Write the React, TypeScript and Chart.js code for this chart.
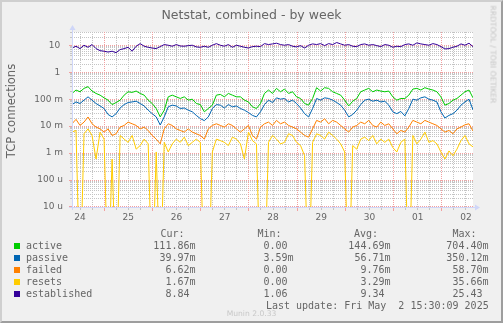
import React, { useEffect, useRef } from 'react';
import { Chart, registerables } from 'chart.js';

Chart.register(...registerables);

const startHour = 8; // Apr 24, 08:00 (hours since Apr 24 00:00)
const endHour = 207.5; // May 2, 15:30
const dayLabels = ['24', '25', '26', '27', '28', '29', '30', '01', '02'];
const dayNoonHours = [12, 36, 60, 84, 108, 132, 156, 180, 204];
const yTickValues = [1e-5, 1e-4, 1e-3, 1e-2, 1e-1, 1, 10];
const yTickLabels = ['10 u', '100 u', '1 m', '10 m', '100 m', '1 ', '10 '];

const active = [
  0.163, 0.218, 0.188, 0.251, 0.290, 0.200, 0.163, 0.141, 0.112, 0.092,
  0.063, 0.075, 0.092, 0.141, 0.188, 0.178, 0.200, 0.163, 0.141, 0.092,
  0.069, 0.045, 0.022, 0.039, 0.122, 0.141, 0.122, 0.106, 0.122, 0.092,
  0.100, 0.069, 0.063, 0.034, 0.045, 0.060, 0.141, 0.150, 0.122, 0.163,
  0.141, 0.122, 0.122, 0.092, 0.079, 0.052, 0.045, 0.069, 0.163, 0.218,
  0.163, 0.251, 0.188, 0.237, 0.163, 0.188, 0.122, 0.106, 0.069, 0.060,
  0.106, 0.266, 0.200, 0.266, 0.251, 0.188, 0.163, 0.141, 0.092, 0.056,
  0.084, 0.106, 0.188, 0.218, 0.251, 0.188, 0.218, 0.200, 0.188, 0.200,
  0.122, 0.092, 0.106, 0.106, 0.141, 0.237, 0.251, 0.218, 0.266, 0.237,
  0.218, 0.188, 0.122, 0.060, 0.069, 0.092, 0.106, 0.141, 0.188, 0.218,
  0.112,
];

const passive = [
  0.063, 0.079, 0.069, 0.092, 0.122, 0.092, 0.069, 0.056, 0.045, 0.027,
  0.022, 0.029, 0.047, 0.063, 0.075, 0.079, 0.084, 0.069, 0.056, 0.039,
  0.029, 0.022, 0.011, 0.022, 0.052, 0.060, 0.056, 0.045, 0.047, 0.039,
  0.034, 0.025, 0.019, 0.016, 0.022, 0.045, 0.063, 0.060, 0.047, 0.063,
  0.052, 0.056, 0.045, 0.039, 0.032, 0.025, 0.022, 0.034, 0.063, 0.092,
  0.075, 0.112, 0.100, 0.106, 0.079, 0.092, 0.069, 0.047, 0.029, 0.022,
  0.045, 0.106, 0.092, 0.112, 0.106, 0.092, 0.075, 0.060, 0.039, 0.022,
  0.027, 0.039, 0.063, 0.092, 0.100, 0.084, 0.092, 0.079, 0.084, 0.060,
  0.034, 0.029, 0.035, 0.024, 0.045, 0.100, 0.092, 0.112, 0.122, 0.100,
  0.092, 0.079, 0.034, 0.020, 0.025, 0.029, 0.039, 0.060, 0.079, 0.100,
  0.040,
];

const failed = [
  0.0122, 0.0178, 0.0106, 0.0141, 0.0218, 0.0122, 0.0092, 0.0079, 0.0060, 0.0079,
  0.0045, 0.0052, 0.0092, 0.0106, 0.0141, 0.0122, 0.0106, 0.0079, 0.0092, 0.0069,
  0.0045, 0.0033, 0.0022, 0.0079, 0.0122, 0.0106, 0.0079, 0.0069, 0.0060, 0.0079,
  0.0060, 0.0052, 0.0045, 0.0033, 0.0079, 0.0106, 0.0122, 0.0106, 0.0092, 0.0122,
  0.0106, 0.0079, 0.0060, 0.0079, 0.0106, 0.0045, 0.0033, 0.0092, 0.0122, 0.0141,
  0.0106, 0.0163, 0.0122, 0.0141, 0.0106, 0.0092, 0.0079, 0.0060, 0.0045, 0.0039,
  0.0079, 0.0163, 0.0141, 0.0188, 0.0122, 0.0163, 0.0141, 0.0106, 0.0079, 0.0060,
  0.0092, 0.0106, 0.0141, 0.0122, 0.0163, 0.0106, 0.0092, 0.0141, 0.0106, 0.0122,
  0.0079, 0.0052, 0.0069, 0.0060, 0.0092, 0.0163, 0.0141, 0.0122, 0.0163, 0.0141,
  0.0122, 0.0106, 0.0079, 0.0060, 0.0069, 0.0052, 0.0079, 0.0092, 0.0112, 0.0122,
  0.0066,
];

const resets = [
  0.0060, 0.0069, 0, 0.0052, 0.0079, 0.0045, 0.0006, 0.0060, 0.0033, 0,
  0.0006, 0, 0.0045, 0.0033, 0.0025, 0.0045, 0.0014, 0.0019, 0.0033, 0.0022,
  0, 0.0011, 0, 0.0025, 0.0011, 0.0022, 0.0033, 0.0025, 0.0039, 0.0019,
  0.0025, 0.0033, 0.0025, 0, 0, 0.0011, 0.0033, 0.0029, 0.0025, 0.0019,
  0.0039, 0.0033, 0.0022, 0.0006, 0.0060, 0.0029, 0.0022, 0, 0, 0.0025,
  0.0045, 0.0033, 0.0022, 0.0025, 0.0052, 0.0045, 0.0025, 0.0019, 0.0008, 0,
  0.0025, 0.0052, 0.0045, 0.0033, 0.0060, 0.0045, 0.0033, 0.0022, 0.0011, 0,
  0.0019, 0.0014, 0.0033, 0.0039, 0.0029, 0.0045, 0.0022, 0.0033, 0.0025, 0.0033,
  0.0016, 0.0011, 0.0025, 0.0033, 0, 0.0045, 0.0022, 0.0033, 0.0060, 0.0025,
  0.0029, 0.0022, 0.0011, 0.0006, 0.0012, 0.0008, 0.0014, 0.0029, 0.0045, 0.0022,
  0.0017,
];

const established = [
  7.9, 9.2, 7.5, 10, 8.4, 10.6, 7.5, 6.3, 6.0, 5.6,
  6.0, 5.3, 6.9, 7.5, 8.4, 6.0, 9.2, 11.5, 9.2, 8.4,
  7.9, 7.5, 8.9, 10.6, 10, 9.2, 10.6, 9.4, 9.2, 9.7,
  10, 8.7, 8.4, 9.2, 8.4, 10, 11.5, 10, 9.2, 10.6,
  8.4, 10, 9.2, 8.4, 7.9, 8.9, 9.2, 8.9, 11.5, 10.6,
  11.2, 11.9, 10.6, 10, 10.6, 9.2, 8.7, 9.7, 7.9, 10,
  11.2, 10.6, 11.5, 9.7, 11.5, 10.6, 12.6, 11.2, 10, 10.6,
  9.2, 8.9, 10.6, 11.2, 10, 10.6, 9.7, 8.9, 10.6, 10,
  8.4, 9.2, 8.9, 10.6, 11.2, 10, 12.2, 11.2, 10.6, 10,
  11.5, 10.6, 8.9, 7.3, 7.5, 8.4, 9.2, 11.2, 10, 11.9,
  8.84,
];

const seriesNames = ['active', 'passive', 'failed', 'resets', 'established'];
const seriesColors = ['#00cc00', '#0066b3', '#ff8000', '#ffcc00', '#330099'];
const curValues = ['111.86m', '39.97m', '6.62m', '1.67m', '8.84 '];
const minValues = ['0.00 ', '3.59m', '0.00 ', '0.00 ', '1.06 '];
const avgValues = ['144.69m', '56.71m', '9.76m', '3.29m', '9.34 '];
const maxValues = ['704.40m', '350.12m', '58.70m', '35.66m', '25.43 '];

const TEXT = '#666666';
const AXIS = '#cfd6f8';
const MAJOR = '#f2a0a0';
const MINOR = '#c4c4c4';

const rrdPlugin = {
  id: 'rrdGrid',
  beforeDatasetsDraw(chart: any) {
    const { ctx, chartArea: a, scales } = chart;
    const xs = scales.x;
    const ys = scales.y;
    const L = Math.round(a.left);
    const R = Math.round(a.right);
    const T = Math.round(a.top);
    const B = Math.round(a.bottom);
    ctx.save();
    ctx.fillStyle = '#ffffff';
    ctx.fillRect(L, T, R - L, B - T);
    ctx.lineWidth = 1;

    const hl: { row: number; major: boolean }[] = [];
    for (let d = -5; d <= 1; d++) {
      for (let k = 1; k <= 9; k++) {
        const v = k * Math.pow(10, d);
        if (v > ys.max) break;
        const row = Math.min(B - 1, Math.floor(ys.getPixelForValue(v)));
        hl.push({ row, major: k === 1 });
      }
    }
    const vl: { col: number; major: boolean }[] = [];
    for (let h = Math.ceil(startHour / 6) * 6; h <= endHour; h += 6) {
      const col = Math.floor(xs.getPixelForValue(h));
      vl.push({ col, major: h % 24 === 0 });
    }
    ctx.setLineDash([1, 1]);
    for (const pass of [false, true]) {
      ctx.strokeStyle = pass ? MAJOR : MINOR;
      ctx.beginPath();
      for (const l of hl) {
        if (l.major !== pass) continue;
        ctx.moveTo(L, l.row + 0.5);
        ctx.lineTo(R, l.row + 0.5);
      }
      for (const l of vl) {
        if (l.major !== pass) continue;
        ctx.moveTo(l.col + 0.5, T);
        ctx.lineTo(l.col + 0.5, B);
      }
      ctx.stroke();
    }
    ctx.setLineDash([]);
    // tick marks outside the axes
    for (const pass of [false, true]) {
      ctx.strokeStyle = pass ? MAJOR : MINOR;
      ctx.beginPath();
      for (const l of hl) {
        if (l.major !== pass) continue;
        ctx.moveTo(L - (pass ? 3 : 2), l.row + 0.5);
        ctx.lineTo(L, l.row + 0.5);
      }
      for (const l of vl) {
        if (l.major !== pass) continue;
        ctx.moveTo(l.col + 0.5, B + 1);
        ctx.lineTo(l.col + 0.5, B + (pass ? 4 : 3));
      }
      ctx.stroke();
    }
    ctx.restore();
  },
  afterDatasetsDraw(chart: any) {
    const { ctx, chartArea: a } = chart;
    const L = Math.round(a.left);
    const R = Math.round(a.right);
    const T = Math.round(a.top);
    const B = Math.round(a.bottom);
    ctx.save();
    ctx.strokeStyle = AXIS;
    ctx.fillStyle = AXIS;
    ctx.lineWidth = 1;
    ctx.beginPath();
    ctx.moveTo(L + 0.5, B + 3);
    ctx.lineTo(L + 0.5, T - 3);
    ctx.moveTo(L - 3, B + 0.5);
    ctx.lineTo(R + 3, B + 0.5);
    ctx.stroke();
    ctx.beginPath();
    ctx.moveTo(L + 0.5, T - 7);
    ctx.lineTo(L - 2.5, T - 2);
    ctx.lineTo(L + 3.5, T - 2);
    ctx.closePath();
    ctx.fill();
    ctx.beginPath();
    ctx.moveTo(R + 7, B + 0.5);
    ctx.lineTo(R + 2, B - 2.5);
    ctx.lineTo(R + 2, B + 3.5);
    ctx.closePath();
    ctx.fill();
    ctx.restore();
  },
};

const mono = '"DejaVu Sans Mono", monospace';
const sans = '"DejaVu Sans", sans-serif';

function MonoText(props: { left?: number; right?: number; baseline: number; text: string; color?: string }) {
  const style: any = {
    position: 'absolute',
    top: props.baseline - 9.46,
    height: 12,
    lineHeight: '12px',
    fontFamily: mono,
    fontSize: 10,
    color: props.color || TEXT,
    whiteSpace: 'pre',
  };
  if (props.right !== undefined) {
    style.left = props.right - 300;
    style.width = 300;
    style.textAlign = 'right';
  } else {
    style.left = props.left;
  }
  return <div style={style}>{props.text}</div>;
}

export default function App() {
  const ref = useRef<HTMLCanvasElement>(null);

  useEffect(() => {
    document.body.style.margin = '0';
    const canvas = ref.current;
    if (!canvas) return;
    const seriesData = [active, passive, failed, resets, established];
    const toPoints = (arr: number[]) =>
      arr.map((v, i) => ({
        x: startHour + (i * (endHour - startHour)) / (arr.length - 1),
        y: v === 0 ? 1e-8 : v,
      }));
    const chart = new Chart(canvas, {
      type: 'line',
      data: {
        datasets: seriesNames.map((name, k) => ({
          label: name,
          data: toPoints(seriesData[k]),
          borderColor: seriesColors[k],
          backgroundColor: seriesColors[k],
          borderWidth: 1,
          pointRadius: 0,
          tension: 0,
          fill: false,
          order: 5 - k,
        })),
      },
      options: {
        responsive: false,
        animation: false,
        devicePixelRatio: 1,
        layout: { padding: { left: 0, top: 32, right: 30, bottom: 98 } },
        plugins: {
          legend: { display: false },
          title: { display: false },
          tooltip: { enabled: false },
        },
        scales: {
          x: {
            type: 'linear',
            min: startHour,
            max: endHour,
            grid: { display: false, drawTicks: false },
            border: { display: false },
            afterBuildTicks: (s: any) => {
              s.ticks = dayNoonHours.map((v) => ({ value: v }));
            },
            afterFit: (s: any) => {
              s.height = 18;
            },
            ticks: {
              autoSkip: false,
              maxRotation: 0,
              padding: 5,
              color: TEXT,
              font: { family: 'DejaVu Sans', size: 9 },
              callback: (_v: any, i: number) => dayLabels[i],
            },
          },
          y: {
            type: 'logarithmic',
            min: 1e-5,
            max: 31,
            grid: { display: false, drawTicks: false },
            border: { display: false },
            afterBuildTicks: (s: any) => {
              s.ticks = yTickValues.map((v) => ({ value: v }));
            },
            afterFit: (s: any) => {
              s.width = 72;
            },
            ticks: {
              autoSkip: false,
              padding: 9,
              color: TEXT,
              font: { family: 'DejaVu Sans', size: 9 },
              callback: (_v: any, i: number) => yTickLabels[i],
            },
          },
        },
      } as any,
      plugins: [rrdPlugin],
    });
    return () => chart.destroy();
  }, []);

  const rowBase = 249.2;
  return (
    <div style={{ position: 'absolute', left: 0, top: 0, width: 503, height: 323, background: '#f0f0f0', overflow: 'hidden' }}>
      <div
        style={{
          position: 'absolute', left: 0, top: 0, width: 503, height: 323, boxSizing: 'border-box',
          borderTop: '2px solid #cfcfcf', borderLeft: '2px solid #cfcfcf',
          borderBottom: '2px solid #9e9e9e', borderRight: '2px solid #9e9e9e',
        }}
      />
      <canvas ref={ref} width={503} height={323} style={{ position: 'absolute', left: 0, top: 0, width: 503, height: 323 }} />
      <div
        style={{
          position: 'absolute', left: 0, top: 6.5, width: 503, height: 15, lineHeight: '15px',
          textAlign: 'center', fontFamily: sans, fontSize: 12.5, color: TEXT, whiteSpace: 'pre',
        }}
      >
        Netstat, combined - by week
      </div>
      <div
        style={{
          position: 'absolute', left: 11 - 80, top: 110.5 - 7, width: 160, height: 14, lineHeight: '14px',
          textAlign: 'center', fontFamily: sans, fontSize: 11.5, color: TEXT, whiteSpace: 'pre',
          transform: 'rotate(-90deg)',
        }}
      >
        TCP connections
      </div>
      <div
        style={{
          position: 'absolute', left: 492.6 - 60, top: 54 - 4.5, width: 120, height: 9, lineHeight: '9px',
          textAlign: 'center', fontFamily: sans, fontSize: 7.6, color: '#c4c4c4', whiteSpace: 'pre',
          transform: 'rotate(90deg)',
        }}
      >
        RRDTOOL / TOBI OETIKER
      </div>
      <MonoText left={160.5} baseline={237} text="Cur:" />
      <MonoText left={257.5} baseline={237} text="Min:" />
      <MonoText left={354} baseline={237} text="Avg:" />
      <MonoText left={452.5} baseline={237} text="Max:" />
      {seriesNames.map((name, k) => (
        <React.Fragment key={name}>
          <div
            style={{
              position: 'absolute', left: 14, top: rowBase + 12 * k - 6, width: 6, height: 6,
              background: seriesColors[k],
            }}
          />
          <MonoText left={26} baseline={rowBase + 12 * k} text={name} />
          <MonoText right={195.5} baseline={rowBase + 12 * k} text={curValues[k]} />
          <MonoText right={293.5} baseline={rowBase + 12 * k} text={minValues[k]} />
          <MonoText right={390.5} baseline={rowBase + 12 * k} text={avgValues[k]} />
          <MonoText right={488.5} baseline={rowBase + 12 * k} text={maxValues[k]} />
        </React.Fragment>
      ))}
      <MonoText right={488.7} baseline={309.2} text="Last update: Fri May  2 15:30:09 2025" />
      <div
        style={{
          position: 'absolute', left: 0, top: 308.6, width: 503, height: 9, lineHeight: '9px',
          textAlign: 'center', fontFamily: sans, fontSize: 7.6, color: '#c8c8c8', whiteSpace: 'pre',
        }}
      >
        Munin 2.0.33
      </div>
    </div>
  );
}
